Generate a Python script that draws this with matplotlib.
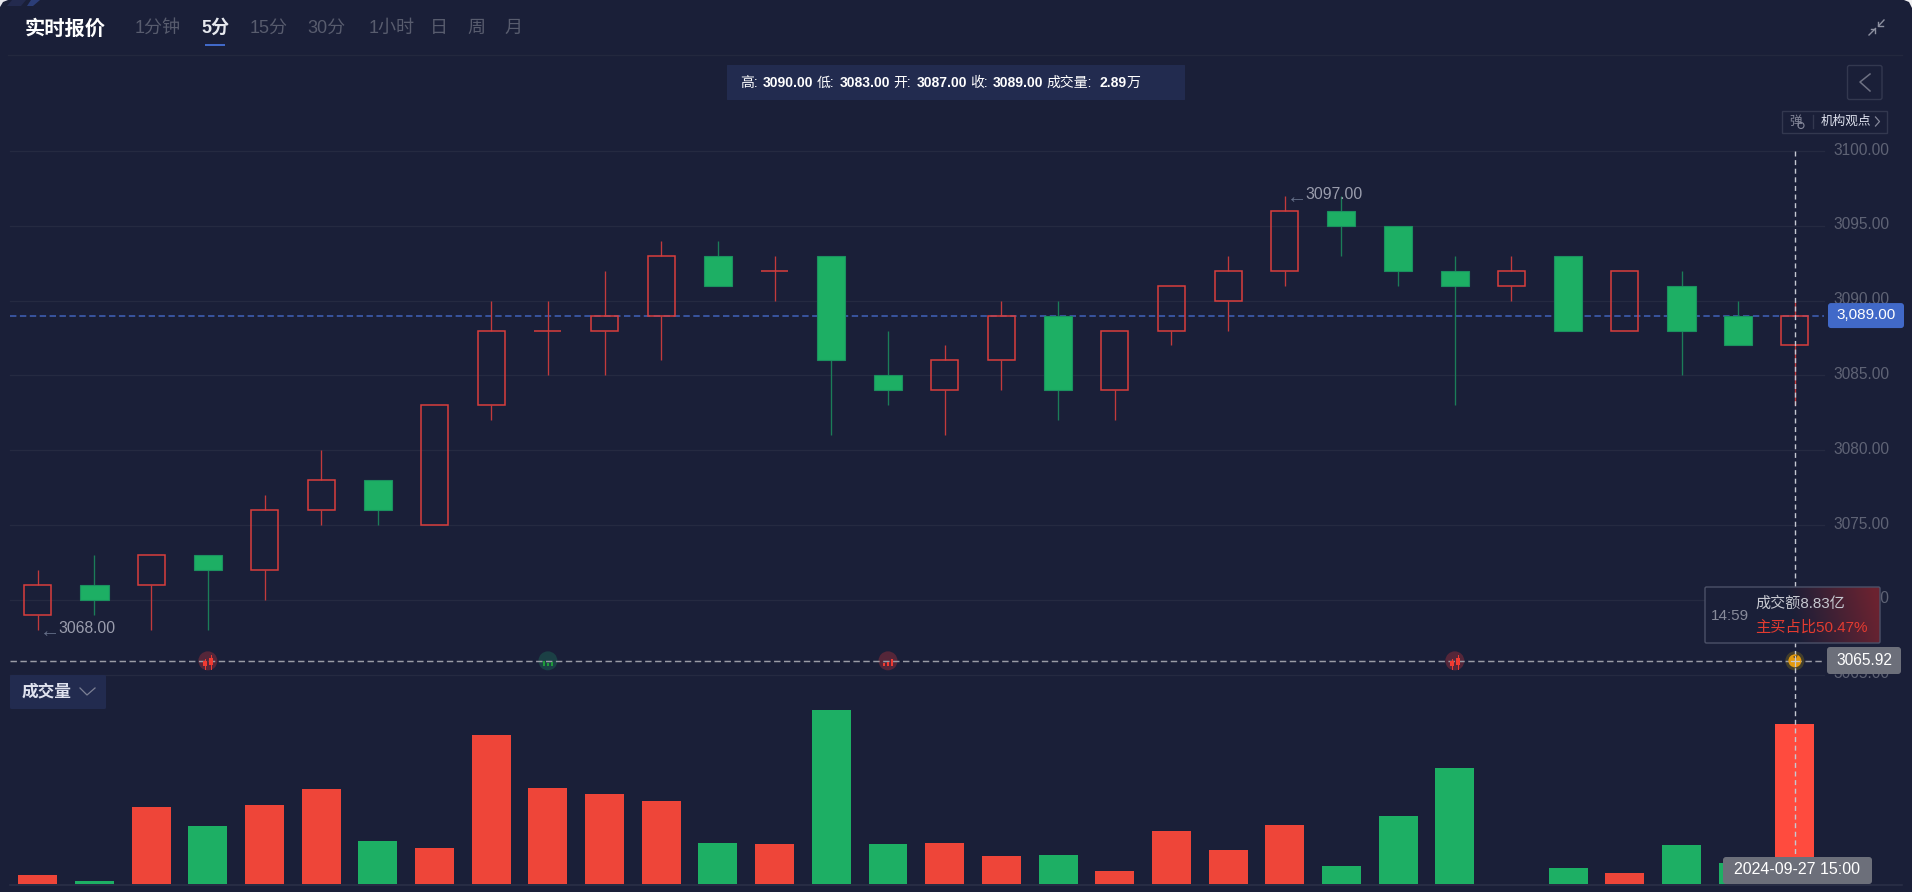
import numpy as np
import matplotlib
matplotlib.use("Agg")
import matplotlib.pyplot as plt
from matplotlib.patches import Rectangle, FancyBboxPatch, Circle, Polygon
from matplotlib.transforms import ScaledTranslation

plt.rcParams['font.family'] = ['Liberation Sans', 'Noto Sans CJK SC', 'DejaVu Sans']

opens  = [3069,3071,3071,3073,3072,3076,3078,3075,3083,3088,3088,3089,3093,3092,3093,3085,3084,3086,3089,3084,3088,3090,3092,3096,3095,3092,3091,3093,3088,3091,3089,3087]
closes = [3071,3070,3073,3072,3076,3078,3076,3083,3088,3088,3089,3093,3091,3092,3086,3084,3086,3089,3084,3088,3091,3092,3096,3095,3092,3091,3092,3088,3092,3088,3087,3089]
highs  = [3072,3073,3073,3073,3077,3080,3078,3083,3090,3090,3092,3094,3094,3093,3093,3088,3087,3090,3090,3088,3091,3093,3097,3097,3095,3093,3093,3093,3092,3092,3090,3090]
lows   = [3068,3069,3068,3068,3070,3075,3075,3075,3082,3085,3085,3086,3091,3090,3081,3083,3081,3084,3082,3082,3087,3088,3091,3093,3091,3083,3090,3088,3088,3085,3087,3083]
volumes = [0.17,0.06,1.38,1.05,1.42,1.71,0.78,0.65,2.68,1.73,1.62,1.49,0.74,0.72,3.14,0.72,0.74,0.50,0.52,0.23,0.96,0.61,1.07,0.32,1.22,2.10,0,0.28,0.19,0.70,0.37,2.89]
vol_up = [1,0,1,0,1,1,0,1,1,1,1,1,0,1,0,0,1,1,0,1,1,1,1,0,0,0,1,0,1,0,0,1]
price_ticks = [3065,3070,3075,3080,3085,3090,3095,3100]
tabs = ['1分钟','5分','15分','30分','1小时','日','周','月']
tab_active = '5分'
events = [3, 9, 15, 25]
event_kind = ['candle_up', 'bars_down', 'bars_up', 'candle_up']
cross_index = 31
cross_price = 3065.92
cross_time = '2024-09-27 15:00'
tooltip_time = '14:59'
turnover = '8.83亿'
buy_ratio = '50.47%'

BG = '#1a1f38'; GRID = '#252a41'; RED = '#d93e3c'; REDW = '#c23a3c'
GREEN = '#1daf64'; GREENW = '#1b7d58'; VRED = '#ee4539'; VLAST = '#ff4b3e'
TICK = '#5f6375'; PANEL = '#222b4f'; TAG = '#6c6f7a'; BLUE = '#4169c8'

W, H = 1912, 892
fig = plt.figure(figsize=(W/100, H/100), dpi=100, facecolor=BG)
def axpx(l, t, r, b, **k):
    return fig.add_axes([l/W, (H-b)/H, (r-l)/W, (b-t)/H], **k)

ax = axpx(10, 151, 1824, 674.6, facecolor='none', zorder=3)
xmin, xmax = (10-37.8)/56.68, (1824-37.8)/56.68
ax.set_xlim(xmin, xmax); ax.set_ylim(3065, 3100)
for s in ax.spines.values(): s.set_visible(False)
ax.set_xticks([])
ax.yaxis.tick_right()
ax.set_yticks(price_ticks, [f'{v:.2f}' for v in price_ticks])
ax.tick_params(axis='y', length=0, pad=6.5, labelsize=11.2, labelcolor=TICK)
off = ScaledTranslation(0, 2.4/100, fig.dpi_scale_trans)
for lab in ax.get_yticklabels():
    lab.set_transform(lab.get_transform()+off)
ax.grid(axis='y', color=GRID, lw=0.9, clip_on=False)
ax.set_axisbelow(True)

ax.axhline(closes[-1], color='#3f5fb5', lw=1.15, dashes=(4, 2.2), zorder=1.5)

x = np.arange(len(opens))
for i in x:
    o, c, h, l = opens[i], closes[i], highs[i], lows[i]
    up = c >= o
    wick = REDW if up else GREENW
    top, bot = max(o, c), min(o, c)
    if h > top: ax.vlines(i, top, h, color=wick, lw=0.95, zorder=2)
    if l < bot: ax.vlines(i, l, bot, color=wick, lw=0.95, zorder=2)
    if up:
        ax.bar(i, top-bot, bottom=bot, width=0.475, facecolor='none', edgecolor=RED, lw=1.1, zorder=3)
    else:
        ax.bar(i, top-bot, bottom=bot, width=0.495, facecolor=GREEN, edgecolor='#1b9160', lw=0.8, zorder=3)

lo_i = int(np.argmin(lows)); hi_i = int(np.argmax(highs))
for i, v in ((lo_i, lows[lo_i]), (hi_i, highs[hi_i])):
    ax.annotate('←', xy=(i, v), xytext=(1.2, -1), textcoords='offset points', va='center', ha='left',
                fontsize=14.5, color='#66708a', zorder=5)
    ax.annotate(f'{v:.2f}', xy=(i, v), xytext=(14.5, 0.8), textcoords='offset points', va='center', ha='left',
                fontsize=11.3, color='#9a9dad', zorder=5)

vax = axpx(10, 690, 1824, 884, facecolor='none', zorder=3)
vax.set_xlim(xmin, xmax); vax.set_ylim(0, 3.497); vax.axis('off')
cols = [(VRED if u else GREEN) for u in vol_up]
cols[-1] = VLAST
vax.bar(x, volumes, width=0.688, color=cols, lw=0)

# overlay in pixels for UI chrome
ov = fig.add_axes([0, 0, 1, 1], facecolor='none', zorder=10)
ov.set_xlim(0, W); ov.set_ylim(H, 0); ov.axis('off')
def data_px(i, v):
    p = ax.transData.transform((i, v))
    return p[0], H-p[1]
def rbox(x0, y0, x1, y1, fc, ec='none', r=3, lw=1, z=5):
    ov.add_patch(FancyBboxPatch((x0+r, y0+r), x1-x0-2*r, y1-y0-2*r, boxstyle=f'round,pad={r},rounding_size={r}',
                                fc=fc, ec=ec, lw=lw, zorder=z))

# corners
ov.add_patch(Polygon([(0,0),(8,0),(3,2),(0,7)], fc='#e8e8ee', ec='none'))
ov.add_patch(Polygon([(12,0),(26,0),(21,6),(7,6)], fc='#232a4e', ec='none'))
ov.add_patch(Polygon([(31,0),(40,0),(33,6),(27,6)], fc='#2b3d77', ec='none'))
ov.add_patch(Polygon([(W,0),(W-8,0),(W-3,2),(W,8)], fc='#f2f2f4', ec='none'))

# header
ov.text(24.5, 29.5, '实时报价', fontsize=14.6, fontweight='bold', color='white', va='center', ha='left')
tab_x = [158, 215, 269, 326, 392, 439, 476, 513]
for t, tx in zip(tabs, tab_x):
    act = t == tab_active
    ov.text(tx, 28, t, fontsize=13, color='#e6e8ee' if act else '#585c6e',
            fontweight='bold' if act else 'normal', va='center', ha='center')
ov.add_patch(Rectangle((205, 44), 20, 2, fc='#4169c8', ec='none'))
ov.plot([8, 1902], [54.5, 54.5], color='#23283e', lw=0.9)
# expand icon
ic = '#8d90a0'
ov.plot([1869,1875.5],[35,28.5], color=ic, lw=1); ov.plot([1884,1878.5],[20,26], color=ic, lw=1)
ov.plot([1871,1875.5,1875.5],[29,29,33], color=ic, lw=1); ov.plot([1878.5,1878.5,1883],[21.5,26,26], color=ic, lw=1)

# info box
rbox(727, 65, 1185, 100, '#222b4f', r=0.5)
c = dict(fontsize=10, color='white', va='center', ha='left', zorder=9)
segs = [(740,'高:',0),(763,f'{highs[-1]:.2f}',1),(817,'低:',0),(840,f'{lows[-1]:.2f}',1),(893,'开:',0),(917,f'{opens[-1]:.2f}',1),
        (970,'收:',0),(993,f'{closes[-1]:.2f}',1),(1046,'成交量:',0),(1100,f'{volumes[-1]:.2f}',1),(1127,'万',0)]
for sx, st, bd in segs:
    ov.text(sx, 83, st, fontweight='bold' if bd else 'normal', **c)

# back button
rbox(1847.5, 65.5, 1882, 99.5, 'none', ec='#33384f', r=2)
ov.plot([1870,1860,1870],[74,82,91], color='#6e7183', lw=1.1)
# tags box
ov.add_patch(Rectangle((1782.5,110.5),104.5,22, fc='none', ec='#33384f', lw=1))
ov.text(1789, 122, '弹', fontsize=9, color='#85889a', va='center', ha='left')
ov.add_patch(Circle((1801,125.5),3, fc=BG, ec='#85889a', lw=0.8))
ov.plot([1813.5,1813.5],[115,128], color='#33384f', lw=1)
ov.text(1821, 121.5, '机构观点', fontsize=9.1, color='#dfe2ee', va='center', ha='left')
ov.plot([1875.5,1879.5,1875.5],[117,121.5,126], color='#85889a', lw=0.9)

# crosshair
cx, cy = data_px(cross_index, cross_price)
ov.plot([cx, cx], [151, 857], color='#c6c8d2', lw=1, dashes=(3.6, 2.6), zorder=4)
ov.plot([10, 1824], [cy, cy], color='#9a9ca6', lw=1.05, dashes=(4.4, 2.4), zorder=4)

# event badges
def badge(i, kind):
    ex, _ = data_px(i, cross_price)
    ey = cy
    col = '#1f9a3a' if kind == 'bars_down' else '#ef3b32'
    halo = '#1b4045' if kind == 'bars_down' else '#552639'
    ov.add_patch(Circle((ex, ey), 9.5, fc=halo, ec='none', zorder=3))
    if kind == 'candle_up':
        ov.add_patch(Rectangle((ex-5, ey+0), 4, 5, fc=col, ec='none', zorder=5))
        ov.add_patch(Rectangle((ex+1, ey-3), 4, 7, fc=col, ec='none', zorder=5))
        ov.plot([ex-3, ex-3],[ey-2, ey+8], color=col, lw=0.7, zorder=5)
        ov.plot([ex+3, ex+3],[ey-6, ey+8], color=col, lw=0.7, zorder=5)
    else:
        hs = [5, 3, 4] if kind == 'bars_down' else [3, 4, 7]
        for k, h in enumerate(hs):
            ov.add_patch(Rectangle((ex-5+k*4, ey+5-h), 2.4, h, fc=col, ec='none', zorder=5))
for i, k in zip(events, event_kind):
    badge(i, k)
# gold badge
ov.add_patch(Circle((cx, cy), 9.5, fc='#423e2c', ec='none', zorder=3))
ov.add_patch(Circle((cx, cy), 6.5, fc='#e39a0e', ec='none', zorder=5))
ov.add_patch(Polygon([(cx-2,cy-4),(cx+3,cy-6),(cx+1,cy-2)], fc='#5a3d12', ec='none', zorder=6))
ov.plot([cx-4, cx+4],[cy, cy], color='#c6c8d2', lw=0.9, zorder=6)
ov.plot([cx, cx],[cy-5, cy+5], color='#c6c8d2', lw=0.9, zorder=6)

# tooltip
tx0, ty0, tx1, ty1 = 1705, 587, 1880, 643
rbox(tx0, ty0, tx1, ty1, BG, r=1.5, z=6)
u, v_ = np.meshgrid(np.linspace(0, 1, 175), np.linspace(0, 1, 56))
a = np.clip((u - 0.5 + 0.08*(0.5 - v_)) / 0.5, 0, 1)
img = np.zeros(u.shape+(4,))
img[..., 0] = 0.44; img[..., 1] = 0.14; img[..., 2] = 0.19; img[..., 3] = a*0.95
ov.imshow(img, extent=(tx0, tx1, ty1, ty0), aspect='auto', zorder=7, interpolation='bilinear')
ov.set_xlim(0, W); ov.set_ylim(H, 0)
rbox(tx0, ty0, tx1, ty1, 'none', ec='#4c5168', r=1.5, z=8)
ov.text(1711, 616, tooltip_time, fontsize=11, color='#878a9a', va='center', ha='left', zorder=9)
ov.text(1755, 604, '成交额'+turnover, fontsize=10.9, color='#c6c8d0', va='center', ha='left', zorder=9)
ov.text(1755, 628, '主买占比'+buy_ratio, fontsize=11, color='#e33b30', va='center', ha='left', zorder=9)

# price tags
_, by = data_px(0, closes[-1])
rbox(1828, by-12.5, 1904, by+12.5, BLUE, r=3, z=6)
ov.text(1866, by-0.5, f'{closes[-1]:,.2f}', fontsize=11, color='white', va='center', ha='center', zorder=9)
rbox(1827, 647, 1901, 674, TAG, r=3, z=6)
ov.text(1864, 660.5, f'{cross_price:.2f}', fontsize=11.2, color='white', va='center', ha='center', zorder=9)

# volume legend
rbox(10, 675, 106, 709, PANEL, r=1.5, z=6)
ov.text(22, 692, '成交量', fontsize=12, fontweight='bold', color='#dfe2ee', va='center', ha='left', zorder=9)
ov.plot([80,87,95],[688,695,688], color='#7c8094', lw=0.9, zorder=9)

# baseline and date tag
ov.plot([10, 1902], [884.5, 884.5], color='#2b3048', lw=1.1, zorder=2)
rbox(1723, 857, 1872, 884, TAG, r=3, z=6)
ov.text(1797.5, 869, cross_time, fontsize=11.5, color='white', va='center', ha='center', zorder=9)

fig.savefig('out.png', dpi=100, facecolor=BG)
